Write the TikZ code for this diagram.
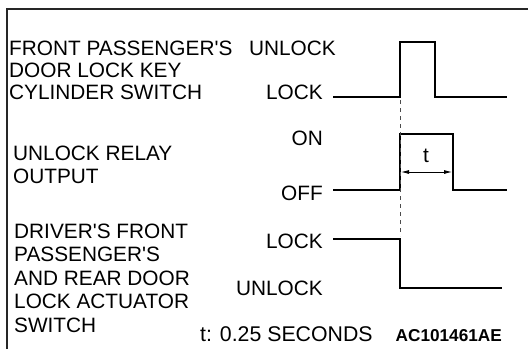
\documentclass[tikz,border=0pt]{standalone}
\usepackage{fontspec}
\setmainfont{Liberation Sans}
\usetikzlibrary{arrows.meta}
\begin{document}
\begin{tikzpicture}[x=1pt,y=-1pt,
  lbl/.style={inner sep=0pt,font=\fontsize{20.8}{23}\selectfont},
  lvlw/.style={lbl,anchor=base east},
  sig/.style={line width=1.8pt,line join=miter},
  frame/.style={line width=1.6pt,draw=black!85}]
\useasboundingbox (0,0) rectangle (528,349);
\draw[frame] (7,349) -- (7,9) -- (528,9);
% left labels
\node[lbl,anchor=base west] (t1) at (9,55) {FRONT PASSENGER\textquotesingle S};
\node[lbl,anchor=base west] (t2) at (9,77) {DOOR LOCK KEY};
\node[lbl,anchor=base west] (t3) at (9,99) {CYLINDER SWITCH};
\node[lbl,anchor=base west] (t4) at (13,160) {UNLOCK RELAY};
\node[lbl,anchor=base west] (t5) at (13,183) {OUTPUT};
\node[lbl,anchor=base west] (t6) at (14,238) {DRIVER\textquotesingle S FRONT};
\node[lbl,anchor=base west] (t7) at (14,261.5) {PASSENGER\textquotesingle S};
\node[lbl,anchor=base west] (t8) at (14,285) {AND REAR DOOR};
\node[lbl,anchor=base west] (t9) at (14,308.5) {LOCK ACTUATOR};
\node[lbl,anchor=base west] (t10) at (14,332) {SWITCH};
% level labels
\node[lvlw] (u1) at (336,55) {UNLOCK};
\node[lvlw] (l1) at (323,99) {LOCK};
\node[lvlw] (on) at (323,145) {ON};
\node[lvlw] (off) at (323,200) {OFF};
\node[lvlw] (l3) at (323,248) {LOCK};
\node[lvlw] (u3) at (323,295) {UNLOCK};
\node[inner sep=0pt,anchor=base west,font=\fontsize{21.3}{23}\selectfont] (note) at (200,341) {t: 0.25 SECONDS};
\node[inner sep=0pt,anchor=base east,font=\fontsize{17.2}{18}\selectfont\bfseries] (code) at (502,341) {AC101461AE};
% signals
\coordinate (s1a) at (333,97);
\coordinate (s1b) at (400,97);
\coordinate (s1c) at (400,42);
\coordinate (s1d) at (435,42);
\coordinate (s1e) at (435,97);
\coordinate (s1f) at (507,97);
\draw[sig] (s1a) -- (s1b) -- (s1c) -- (s1d) -- (s1e) -- (s1f);
\coordinate (s2a) at (333,190);
\coordinate (s2b) at (400,190);
\coordinate (s2c) at (400,134);
\coordinate (s2d) at (453,134);
\coordinate (s2e) at (453,190);
\coordinate (s2f) at (507,190);
\draw[sig] (s2a) -- (s2b) -- (s2c) -- (s2d) -- (s2e) -- (s2f);
\coordinate (s3a) at (333,239);
\coordinate (s3b) at (400,239);
\coordinate (s3c) at (400,288);
\coordinate (s3d) at (502,288);
\draw[sig] (s3a) -- (s3b) -- (s3c) -- (s3d);
% dashed marker
\coordinate (da) at (400,100);
\coordinate (db) at (400,236);
\draw[line width=0.8pt,draw=black!70,dash pattern=on 4pt off 4pt] (da) -- (db);
% t arrow
\coordinate (ta) at (401,172);
\coordinate (tb) at (452,172);
\draw[line width=0.8pt,{Latex[length=8pt,width=4pt]}-{Latex[length=8pt,width=4pt]}] (ta) -- (tb);
\node[lbl,anchor=base] (tl) at (426,162) {t};
\end{tikzpicture}
\end{document}
